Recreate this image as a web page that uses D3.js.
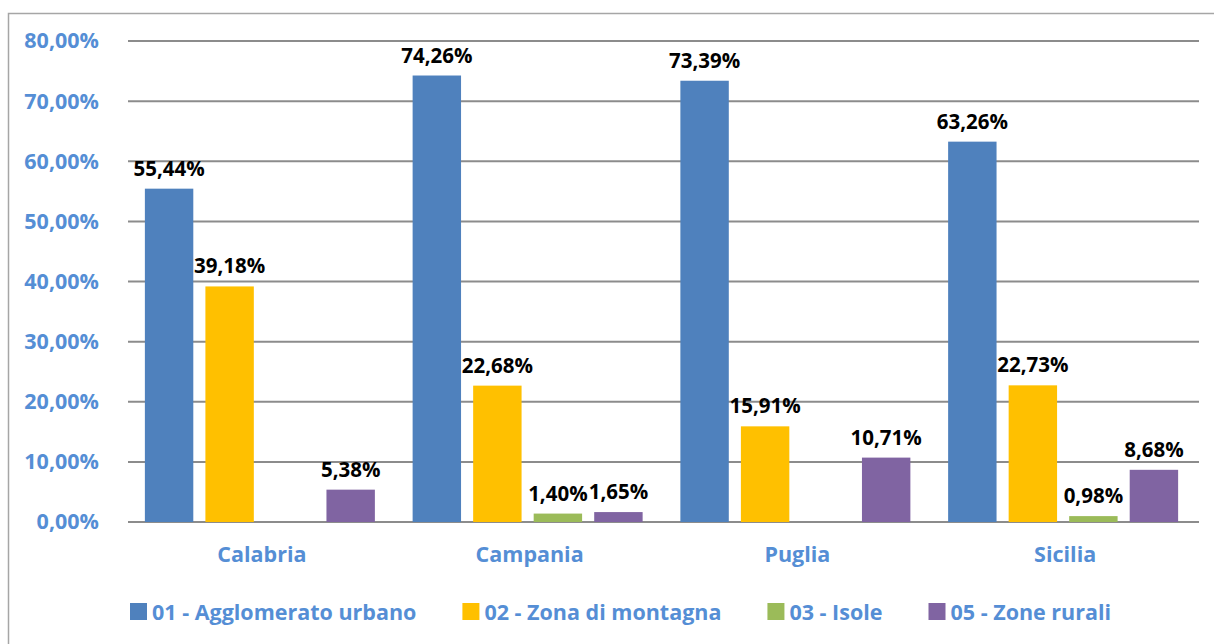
<!DOCTYPE html>
<html>
<head>
<meta charset="utf-8">
<script src="https://cdn.jsdelivr.net/npm/d3@7"></script>
<style>
  body { margin: 0; background: #fff; }
  text { font-family: "Open Sans", sans-serif; font-weight: bold; }
</style>
</head>
<body>
<div id="chart"></div>
<script>
// data
const regions = ["Calabria", "Campania", "Puglia", "Sicilia"];
const seriesNames = ["01 - Agglomerato urbano", "02 - Zona di montagna", "03 - Isole", "05 - Zone rurali"];
const seriesColors = ["#4F81BD", "#FFC000", "#9BBB59", "#8064A2"];
const agglomerato = [55.44, 74.26, 73.39, 63.26];
const montagna = [39.18, 22.68, 15.91, 22.73];
const isole = [null, 1.40, null, 0.98];
const rurali = [5.38, 1.65, 10.71, 8.68];
const yTicks = [0, 10, 20, 30, 40, 50, 60, 70, 80];

const seriesValues = [agglomerato, montagna, isole, rurali];

const W = 1214, H = 644;
const margin = { top: 41, right: 15, bottom: 122, left: 128 };
const width = W - margin.left - margin.right;
const height = H - margin.top - margin.bottom;
const axisBlue = "#558ED5";

const svg = d3.select("#chart").append("svg").attr("width", W).attr("height", H);

// outer frame (only top and left visible)
svg.append("path")
    .attr("d", `M8.5,${H} L8.5,13.5 L${W},13.5`)
    .attr("fill", "none").attr("stroke", "#a6a6a6").attr("stroke-width", 1.5);

const g = svg.append("g").attr("transform", `translate(${margin.left},${margin.top})`);

const x0 = d3.scaleBand().domain(regions).range([0, width]);
const groupW = 230;
const x1 = d3.scaleBand().domain(d3.range(seriesNames.length))
    .range([(x0.bandwidth() - groupW) / 2 - 2, (x0.bandwidth() + groupW) / 2 - 2])
    .paddingInner(0.2);
const y = d3.scaleLinear().domain([0, 80]).range([height, 0]);

// gridlines
g.append("g").selectAll("line").data(yTicks).enter().append("line")
    .attr("x1", 0).attr("x2", width)
    .attr("y1", d => y(d)).attr("y2", d => y(d))
    .attr("stroke", "#8c8c8c").attr("stroke-width", 2);

// y axis labels
const yAxis = g.append("g").attr("transform", "translate(-26,0)")
    .call(d3.axisLeft(y).tickValues(yTicks).tickSize(0)
        .tickFormat(d => d3.format(".2f")(d).replace(".", ",") + "%"));
yAxis.select(".domain").remove();
yAxis.selectAll("text").attr("fill", axisBlue).style("font-size", "21.5px")
    .style("font-family", "'Open Sans', sans-serif").style("font-weight", "bold");

// x axis labels
const xAxis = g.append("g").attr("transform", `translate(0,${height + 22})`)
    .call(d3.axisBottom(x0).tickSize(0));
xAxis.select(".domain").remove();
xAxis.selectAll("text").attr("fill", axisBlue).style("font-size", "21.5px")
    .style("font-family", "'Open Sans', sans-serif").style("font-weight", "bold");

// bars
const groups = g.selectAll("g.grp").data(regions).enter().append("g")
    .attr("class", "grp")
    .attr("transform", d => `translate(${x0(d)},0)`);

groups.each(function(region, ri) {
    const grp = d3.select(this);
    const vals = seriesValues.map((s, si) => ({ si, v: s[ri] })).filter(d => d.v != null);
    grp.selectAll("rect").data(vals).enter().append("rect")
        .attr("x", d => x1(d.si))
        .attr("width", x1.bandwidth())
        .attr("y", d => y(d.v))
        .attr("height", d => height - y(d.v))
        .attr("fill", d => seriesColors[d.si]);
    grp.selectAll("text.lbl").data(vals).enter().append("text")
        .attr("class", "lbl")
        .attr("x", d => x1(d.si) + x1.bandwidth() / 2)
        .attr("y", d => y(d.v) - 13)
        .attr("text-anchor", "middle")
        .attr("fill", "#000")
        .style("font-size", "20.5px")
        .text(d => d3.format(".2f")(d.v).replace(".", ",") + "%");
});

// legend
const legend = svg.append("g").attr("transform", "translate(130,620)");
let lx = 0;
seriesNames.forEach((name, i) => {
    const item = legend.append("g").attr("transform", `translate(${lx},0)`);
    item.append("rect").attr("x", 0).attr("y", -17).attr("width", 17).attr("height", 17)
        .attr("fill", seriesColors[i]);
    const t = item.append("text").attr("x", 22).attr("y", 0)
        .attr("fill", axisBlue).style("font-size", "21.5px").text(name);
    lx += 22 + t.node().getComputedTextLength() + 46;
});
</script>
</body>
</html>
